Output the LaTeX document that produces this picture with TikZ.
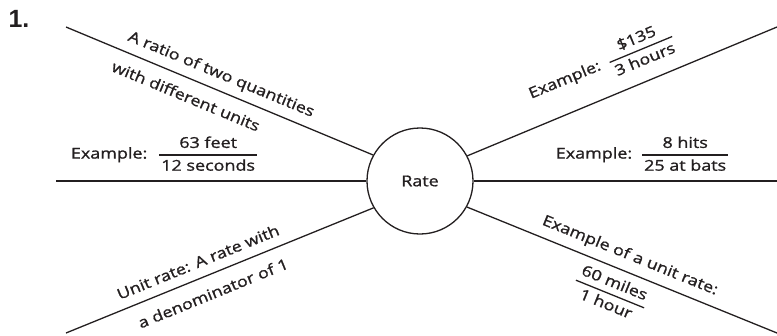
\documentclass[tikz,border=0pt]{standalone}
\usepackage{fontspec}
\setmainfont{Open Sans}[FakeStretch=1.2,FakeBold=1.2]
\newfontfamily\numfont{Liberation Sans}
\usepackage{array}
\definecolor{ink}{HTML}{231F20}
\newcommand{\myfrac}[2]{{\setlength{\arrayrulewidth}{1.3bp}\renewcommand{\arraystretch}{1.2}\begin{tabular}{@{\hspace{2bp}}c@{\hspace{2bp}}}#1\\\hline #2\end{tabular}}}
\tikzset{
  lbl/.style={font=\fontsize{15}{18}\selectfont, text=ink, inner sep=0pt},
  spoke/.style={draw=ink, line width=1.3bp},
}
\begin{document}
\begin{tikzpicture}[x=1bp,y=-1bp]
\useasboundingbox (0,0) rectangle (777,335);
\node[circle, draw=ink, line width=1.3bp, minimum size=106bp, inner sep=0pt, lbl] (c) at (420,181) {Rate};
\node[text=ink, font=\numfont\bfseries\fontsize{25}{28}\selectfont, inner sep=0pt] (num) at (19,19) {1.};
\coordinate (ul) at (66,27);
\coordinate (ur) at (777,27);
\coordinate (ml) at (56,181);
\coordinate (mr) at (777,181);
\coordinate (ll) at (66,333);
\coordinate (lr) at (777,333);
\draw[spoke] (ul) -- (c.151);
\draw[spoke] (ml) -- (c.180);
\draw[spoke] (ll) -- (c.210);
\draw[spoke] (ur) -- (c.28.4);
\draw[spoke] (mr) -- (c.0);
\draw[spoke] (lr) -- (c.331);
\node[lbl, rotate=-22.6] (t1) at (221,75) {A ratio of two quantities};
\node[lbl, rotate=-22.6] (t2) at (186,96) {with different units};
\node[lbl] (t4) at (164,155) {Example:\hspace{12bp}\myfrac{63 feet}{12 seconds}};
\node[lbl, rotate=22.5] (t3) at (601,66) {Example:\hspace{10bp}\myfrac{\$135}{3 hours}};
\node[lbl] (t5) at (642,155) {Example:\hspace{10bp}\myfrac{8 hits}{25 at bats}};
\node[lbl, rotate=22.2] (t6) at (198,262) {Unit rate: A rate with};
\node[lbl, rotate=22.2] (t7) at (213,293) {a denominator of 1};
\node[lbl, rotate=-22.1] (t8) at (630,256) {Example of a unit rate:};
\node[lbl, rotate=-22.1] (t9) at (610,294) {\myfrac{60 miles}{1 hour}};
\end{tikzpicture}
\end{document}
